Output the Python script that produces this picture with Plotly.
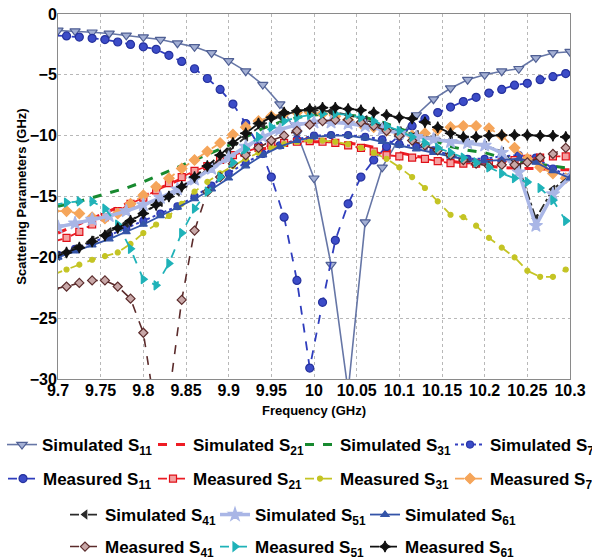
import plotly.graph_objects as go

# ---------------- data ----------------
f_sim = [9.70, 9.72, 9.74, 9.76, 9.78, 9.80, 9.82, 9.84, 9.86, 9.88, 9.90,
         9.92, 9.94, 9.96, 9.98, 10.00, 10.02, 10.04, 10.06, 10.08, 10.10,
         10.12, 10.14, 10.16, 10.18, 10.20, 10.22, 10.24, 10.26, 10.28, 10.30]
f_meas = [9.695, 9.71, 9.725, 9.74, 9.755, 9.77, 9.785, 9.80, 9.815, 9.83,
          9.845, 9.86, 9.875, 9.89, 9.905, 9.92, 9.935, 9.95, 9.965, 9.98,
          9.995, 10.01, 10.025, 10.04, 10.055, 10.07, 10.085, 10.10, 10.115,
          10.13, 10.145, 10.16, 10.175, 10.19, 10.205, 10.22, 10.235, 10.25,
          10.265, 10.28, 10.295]

sim_s11 = [-1.35, -1.4, -1.5, -1.6, -1.75, -1.9, -2.1, -2.4, -2.7, -3.2,
           -3.85, -4.7, -5.8, -7.4, -9.8, -13.5, -20.6, -31.0, -17.1, -12.6,
           -10.2, -8.3, -7.0, -6.1, -5.4, -5.0, -4.7, -4.5, -3.6, -3.2, -3.1]
sim_s21 = [-18.0, -17.4, -16.8, -16.2, -15.6, -15.0, -14.3, -13.7, -13.1, -12.5,
           -12.0, -11.5, -11.1, -10.8, -10.6, -10.5, -10.5, -10.6, -10.8, -11.1,
           -11.4, -11.7, -11.9, -12.1, -12.3, -12.5, -12.6, -12.7, -12.7, -12.8, -12.8]
sim_s31 = [-15.8, -15.5, -15.1, -14.7, -14.3, -13.8, -13.2, -12.6, -12.0, -11.4,
           -10.8, -10.1, -9.4, -8.9, -8.5, -8.3, -8.2, -8.3, -8.5, -8.9,
           -9.4, -9.9, -10.4, -10.9, -11.2, -11.4, -11.8, -12.1, -12.3, -12.5, -12.7]
sim_s71 = [-19.8, -19.3, -18.8, -18.2, -17.6, -17.0, -16.4, -15.8, -15.0, -14.1,
           -13.1, -12.2, -11.5, -10.8, -10.3, -10.0, -9.95, -9.95, -10.1, -10.3,
           -10.7, -10.9, -11.2, -11.6, -11.9, -11.9, -11.7, -11.6, -11.8, -12.7, -13.4]
sim_s41 = [-19.9, -19.3, -18.6, -17.9, -17.2, -16.3, -15.5, -14.6, -13.6, -12.5,
           -11.3, -10.1, -9.1, -8.4, -8.0, -7.9, -8.0, -8.3, -8.7, -9.2,
           -9.6, -9.9, -10.2, -10.4, -10.6, -10.8, -11.3, -12.6, -16.8, -14.4, -13.3]
sim_s51 = [-17.5, -17.2, -16.9, -16.6, -16.2, -15.7, -15.1, -14.4, -13.6, -12.7,
           -11.8, -10.9, -10.1, -9.5, -9.1, -8.9, -8.9, -9.0, -9.2, -9.5,
           -9.8, -10.1, -10.3, -10.5, -10.6, -10.8, -11.4, -13.0, -17.4, -14.8, -13.4]
sim_s61 = [-20.0, -19.5, -19.0, -18.5, -17.9, -17.3, -16.6, -15.9, -15.2, -14.4,
           -13.5, -12.5, -11.6, -10.9, -10.4, -10.1, -10.0, -10.0, -10.2, -10.5,
           -10.8, -11.1, -11.4, -11.7, -12.0, -12.1, -12.0, -11.9, -12.2, -12.9, -13.5]

meas_s11 = [-1.75, -1.8, -1.9, -2.0, -2.1, -2.3, -2.5, -2.7, -2.9, -3.4,
            -3.9, -4.5, -5.3, -6.2, -7.4, -9.0, -10.8, -13.4, -16.7, -21.9,
            -29.1, -23.7, -18.6, -15.6, -13.4, -12.0, -10.9, -10.0, -9.2, -8.6,
            -8.1, -7.65, -7.2, -6.85, -6.5, -6.2, -5.85, -5.7, -5.4, -5.15, -4.9]
meas_s21 = [-18.7, -18.4, -17.9, -17.3, -16.7, -16.2, -15.6, -15.1, -14.5, -13.9,
            -13.4, -12.9, -12.5, -12.0, -11.6, -11.3, -11.0, -10.8, -10.6, -10.5,
            -10.45, -10.5, -10.6, -10.8, -11.0, -11.3, -11.6, -11.7, -11.8, -11.9,
            -12.1, -12.25, -12.3, -12.3, -12.25, -12.2, -12.0, -11.9, -11.8, -11.7, -11.7]
meas_s31 = [-21.4, -21.0, -20.6, -20.2, -19.9, -19.6, -18.9, -18.0, -17.3, -16.6,
            -15.6, -14.6, -13.8, -13.1, -12.5, -11.9, -11.4, -11.0, -10.7, -10.5,
            -10.4, -10.4, -10.5, -10.7, -11.0, -11.4, -11.9, -12.6, -13.4, -14.3,
            -15.4, -16.5, -16.7, -17.4, -18.4, -19.2, -20.0, -21.1, -21.6, -21.6, -21.0]
meas_s71 = [-16.2, -16.2, -16.4, -16.7, -16.8, -16.4, -15.6, -14.9, -14.2, -13.5,
            -12.7, -12.0, -11.3, -10.6, -9.9, -9.3, -8.8, -8.4, -8.2, -8.1,
            -8.1, -8.2, -8.4, -8.7, -9.0, -9.3, -9.6, -9.9, -10.0, -9.8,
            -9.5, -9.3, -9.2, -9.2, -9.4, -10.0, -11.0, -11.9, -12.6, -13.1, -13.5]
meas_s41 = [-22.6, -22.4, -22.1, -21.9, -21.9, -22.4, -23.4, -26.2, -33.0, -31.5,
            -23.5, -17.8, -14.6, -13.4, -12.3, -11.6, -11.0, -10.4, -10.0, -9.6,
            -9.1, -8.8, -8.7, -8.7, -8.9, -9.2, -9.6, -10.0, -10.4, -10.8,
            -11.2, -11.6, -12.0, -12.3, -12.5, -12.4, -12.4, -12.2, -11.8, -11.5, -11.0]
meas_s51 = [-15.7, -15.5, -15.4, -15.4, -16.0, -17.3, -19.3, -21.8, -22.3, -20.5,
            -18.0, -16.0, -14.6, -13.4, -12.2, -11.1, -10.1, -9.3, -8.8, -8.5,
            -8.3, -8.2, -8.2, -8.3, -8.5, -8.8, -9.2, -9.6, -10.1, -10.6,
            -11.0, -11.4, -11.8, -12.2, -12.6, -13.1, -13.5, -13.8, -14.3, -15.3, -17.0]
meas_s61 = [-20.0, -19.6, -19.2, -18.7, -18.2, -17.6, -17.0, -16.4, -15.7, -15.0,
            -14.2, -13.4, -12.5, -11.6, -10.6, -9.8, -9.0, -8.5, -8.1, -7.95,
            -7.8, -7.7, -7.7, -7.8, -7.9, -8.1, -8.3, -8.5, -8.6, -8.9,
            -9.3, -9.8, -10.1, -10.1, -10.0, -9.95, -9.95, -9.95, -10.0, -10.0, -10.1]

x_ticks = [9.7, 9.75, 9.8, 9.85, 9.9, 9.95, 10.0, 10.05, 10.1, 10.15, 10.2, 10.25, 10.3]
x_labels = ["9.7", "9.75", "9.8", "9.85", "9.9", "9.95", "10", "10.05", "10.1",
            "10.15", "10.2", "10.25", "10.3"]
y_ticks = [0, -5, -10, -15, -20, -25, -30]

# ---------------- figure ----------------
W, H = 592, 560
fig = go.Figure()
legends = {}
leg_font = dict(family="Liberation Sans", size=17, color="black", weight="bold")


def add(x, y, name, color, dash, symbol, text_px, row_px, width=2, size=7,
        mfill=None, mline=None, mode="lines+markers"):
    idx = len(fig.data) + 1
    key = "legend" if idx == 1 else f"legend{idx}"
    fig.add_trace(go.Scatter(
        x=x, y=y, name=name, mode=mode, legend=key, showlegend=True,
        line=dict(color=color, dash=dash, width=width),
        marker=dict(symbol=symbol, size=size,
                    color=mfill if mfill else color,
                    line=dict(color=mline if mline else color, width=1.2)),
    ))
    legends[key] = dict(
        orientation="h", xref="container", yref="container",
        x=max(text_px - 40, 0) / W, y=1 - row_px / H,
        xanchor="left", yanchor="middle", font=leg_font,
        bgcolor="rgba(0,0,0,0)", itemwidth=30, visible=True,
    )


R1, R2, R3, R4 = 445, 479, 515, 547
# row 1
add(f_sim, sim_s11, "Simulated S<sub>11</sub>", "#6676a6", "solid", "triangle-down",
    42, R1, width=1.6, size=9, mfill="#a4b0d4", mline="#4f5f94")
add(f_sim, sim_s21, "Simulated S<sub>21</sub>", "#ee1c24", "dash", "square",
    193, R1, width=3, mode="lines")
add(f_sim, sim_s31, "Simulated S<sub>31</sub>", "#17892f", "dash", "square",
    340, R1, width=3, mode="lines")
add(f_sim, sim_s71, "Simulated S<sub>71</sub>", "#3440c0", "dot", "circle",
    490, R1, width=2, size=7, mfill="#3a4cc8", mline="#2a36a8")
# row 2
add(f_meas, meas_s11, "Measured S<sub>11</sub>", "#2f3dbd", "dash", "circle",
    43, R2, width=1.8, size=8, mfill="#3c4cc8", mline="#26329e")
add(f_meas, meas_s21, "Measured S<sub>21</sub>", "#ec1c24", "dash", "square",
    193, R2, width=1.8, size=7, mfill="#f4a0a0", mline="#e01018")
add(f_meas, meas_s31, "Measured S<sub>31</sub>", "#c4c424", "dash", "circle",
    340, R2, width=1.8, size=5)
add(f_meas, meas_s71, "Measured S<sub>71</sub>", "#f5a55a", "dash", "diamond",
    490, R2, width=1.8, size=8)
# row 3
add(f_sim, sim_s41, "Simulated S<sub>41</sub>", "#2a2a2a", "dashdot", "triangle-left",
    105, R3, width=1.8, size=7)
add(f_sim, sim_s51, "Simulated S<sub>51</sub>", "#a9b6e6", "solid", "star",
    255, R3, width=3.5, size=10)
add(f_sim, sim_s61, "Simulated S<sub>61</sub>", "#3454a8", "solid", "triangle-up",
    405, R3, width=1.8, size=7)
# row 4
add(f_meas, meas_s41, "Measured S<sub>41</sub>", "#5b2b2b", "dash", "diamond",
    105, R4, width=1.6, size=7, mfill="#c8a8a8", mline="#5b2b2b")
add(f_meas, meas_s51, "Measured S<sub>51</sub>", "#1fb2b8", "dash", "triangle-right",
    255, R4, width=1.8, size=8)
add(f_meas, meas_s61, "Measured S<sub>61</sub>", "#111111", "dash", "star-diamond",
    405, R4, width=1.8, size=8)

axis_font = dict(size=16, weight="bold", family="Liberation Sans", color="black")
title_font = dict(size=13, weight="bold", family="Liberation Sans", color="black")

fig.update_layout(
    width=W, height=H, showlegend=True,
    paper_bgcolor="white", plot_bgcolor="white",
    margin=dict(l=58, r=22, t=14, b=181, autoexpand=False),
    font=dict(family="Liberation Sans", color="black"),
    xaxis=dict(
        range=[9.7, 10.3], tickvals=x_ticks, ticktext=x_labels,
        showgrid=True, gridcolor="#b8b8b8", griddash="dot", gridwidth=1,
        showline=True, linecolor="#8a8a8a", linewidth=1, mirror=True,
        ticks="", zeroline=False, ticklabeloverflow="allow",
        ticklabelstandoff=-3,
        tickfont=axis_font,
        title=dict(text="Frequency (GHz)", standoff=7, font=title_font),
    ),
    yaxis=dict(
        range=[-30, 0], tickvals=y_ticks,
        showgrid=True, gridcolor="#b8b8b8", griddash="dot", gridwidth=1,
        showline=True, linecolor="#8a8a8a", linewidth=1, mirror=True,
        ticks="", zeroline=False, ticklabeloverflow="allow",
        ticklabelstandoff=-3,
        tickfont=axis_font,
        title=dict(text="Scattering Parameters (GHz)", standoff=0, font=title_font),
    ),
    **legends,
)

fig.write_html("out.html", config={"displayModeBar": False},
               post_script="document.body.style.margin='0px';")
